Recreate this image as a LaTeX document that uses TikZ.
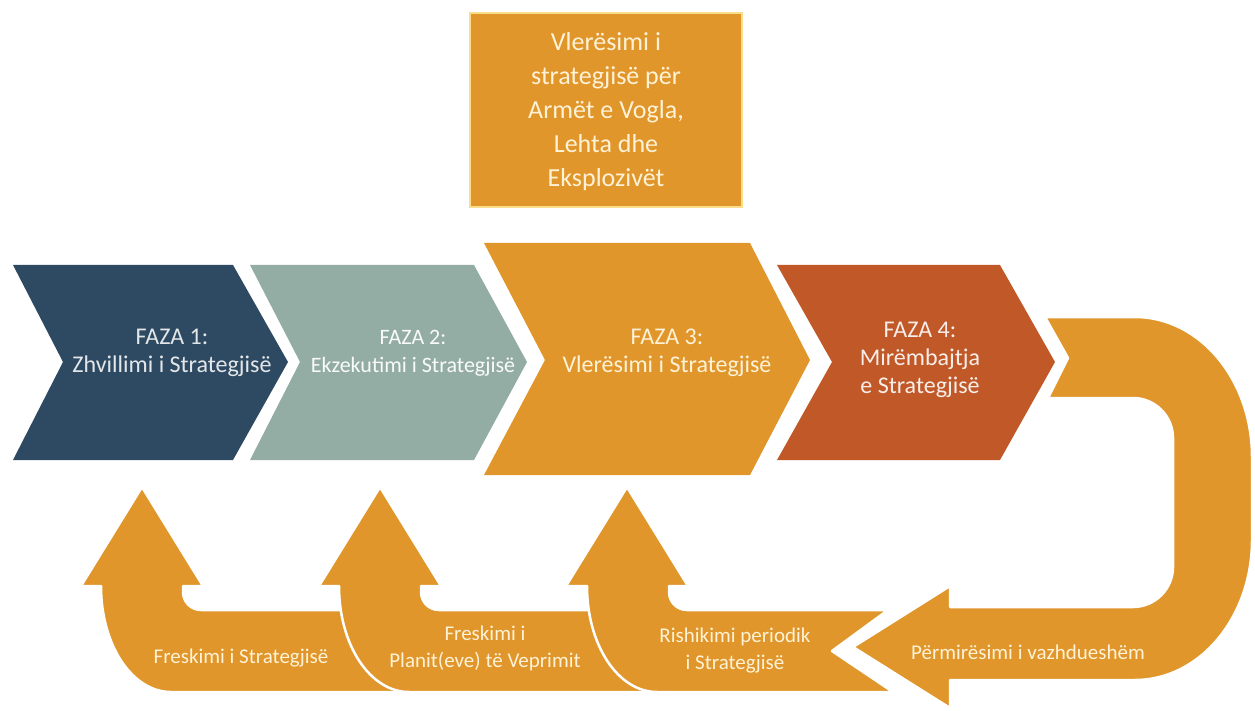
\documentclass[tikz,border=0pt]{standalone}
\usepackage{fontspec}
\setmainfont{Carlito}
\definecolor{navy}{RGB}{46,74,98}
\definecolor{sage}{RGB}{148,173,164}
\definecolor{amber}{RGB}{224,150,42}
\definecolor{rust}{RGB}{192,88,40}
\definecolor{boxedge}{RGB}{250,222,140}
\definecolor{cream}{RGB}{255,242,214}
\definecolor{lightgrey}{RGB}{228,231,233}
\tikzset{
  chevtext/.style={align=center, font=\fontsize{24}{28}\selectfont},
  bandtext/.style={align=center, text=cream, font=\fontsize{21}{27}\selectfont},
  band/.style={fill=amber, draw=white, line width=2.5pt, line join=round},
}
\begin{document}
\begin{tikzpicture}[x=1pt,y=-1pt]
\useasboundingbox (0,0) rectangle (1255,711);
% top box
\node[draw=boxedge, line width=2pt, fill=amber, minimum width=272, minimum height=194, inner sep=0pt] (topbox) at (606,110) {};
\node[align=center, text=cream, font=\fontsize{26}{34}\selectfont] (toptext) at (606,112)
  {Vlerësimi i\\strategjisë për\\Armët e Vogla,\\Lehta dhe\\Eksplozivët};
% chevrons
\fill[navy] (13,265) -- (233,265) -- (288,362) -- (233,460) -- (13,460) -- (63,362) -- cycle;
\fill[sage] (250,265) -- (474,265) -- (527,362) -- (474,460) -- (250,460) -- (300,362) -- cycle;
\fill[amber] (484,243) -- (750,243) -- (810,360) -- (750,475) -- (484,475) -- (545,360) -- cycle;
\fill[rust] (777,265) -- (1000,265) -- (1055,362) -- (1000,460) -- (777,460) -- (832,362) -- cycle;
\node[chevtext, text=lightgrey] (f1) at (172,353) {FAZA 1:\\Zhvillimi i Strategjisë};
\node[chevtext, text=white!94!sage, font=\fontsize{22}{28}\selectfont] (f2) at (413,353) {FAZA 2:\\Ekzekutimi i Strategjisë};
\node[chevtext, text=cream] (f3) at (667,353) {FAZA 3:\\Vlerësimi i Strategjisë};
\node[chevtext, text=white!90!rust] (f4) at (920,360) {FAZA 4:\\Mirëmbajtja\\e Strategjisë};
% U arrow
\path[band] (1045,317) -- (1135,317) .. controls (1200,317) and (1252,380) .. (1252,457) -- (1252,540)
  .. controls (1252,617) and (1200,680) .. (1135,680) -- (950,680) -- (950,708) -- (853,647)
  -- (950,586) -- (950,607) -- (1133,607) .. controls (1155,607) and (1173,589) .. (1173,567)
  -- (1173,438) .. controls (1173,416) and (1155,398) .. (1133,398) -- (1048,398) -- (1068,358) -- cycle;
% bottom bands
\path[band] (142,487) -- (203,586) -- (183,586) -- (183,592) .. controls (183,602) and (191,610) .. (201,610)
  -- (450,610) -- (450,692) -- (171,692) .. controls (132,692) and (101,645) .. (101,586) -- (81,586) -- cycle;
\path[band] (380,487) -- (441,586) -- (421,586) -- (421,592) .. controls (421,602) and (429,610) .. (439,610)
  -- (700,610) -- (700,692) -- (409,692) .. controls (370,692) and (339,645) .. (339,586) -- (319,586) -- cycle;
\path[band] (627,487) -- (688,586) -- (669,586) -- (669,592) .. controls (669,602) and (677,610) .. (687,610)
  -- (888,610) -- (832,651) -- (893,692) -- (657,692) .. controls (618,692) and (587,645) .. (587,586) -- (566,586) -- cycle;
\node[bandtext] (b1) at (241,658) {Freskimi i Strategjisë};
\node[bandtext] (b2) at (485,648) {Freskimi i\\Planit(eve) të Veprimit};
\node[bandtext] (b3) at (735,651) {Rishikimi periodik\\i Strategjisë};
\node[bandtext] (b4) at (1028,652) {Përmirësimi i vazhdueshëm};
\end{tikzpicture}
\end{document}
